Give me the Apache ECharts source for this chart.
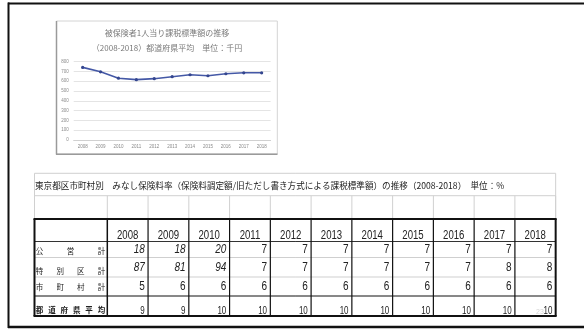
<!DOCTYPE html>
<html>
<head>
<meta charset="utf-8">
<script src="https://cdn.jsdelivr.net/npm/echarts@6/dist/echarts.min.js"></script>
<style>
html,body{margin:0;padding:0;background:#fff;}
#c{width:584px;height:330px;}
</style>
</head>
<body>
<div id="c"></div>
<script>
// ---- data ----
const years = ['2008','2009','2010','2011','2012','2013','2014','2015','2016','2017','2018'];
// per-insured taxable base, prefectural average (thousand yen)
const avgTaxBase = [740, 695, 630, 615, 625, 645, 665, 655, 675, 685, 685];
const yMin = 0, yMax = 800, yStep = 100;

const chartTitle1 = '被保険者1人当り課税標準額の推移';
const chartTitle2 = '（2008-2018）都道府県平均　単位：千円';

const tableTitle = '東京都区市町村別　みなし保険料率（保険料調定額/旧ただし書き方式による課税標準額）の推移（2008-2018）　単位：%';
const rowLabels = ['公営計', '特別区計', '市町村計', '都道府県平均'];
const publicTotal    = [18, 18, 20, 7, 7, 7, 7, 7, 7, 7, 7];
const specialWards   = [87, 81, 94, 7, 7, 7, 7, 7, 7, 8, 8];
const municipalities = [5, 6, 6, 6, 6, 6, 6, 6, 6, 6, 6];
const prefAverage    = [9, 9, 10, 10, 10, 10, 10, 10, 10, 10, 10];
const tableRows = [publicTotal, specialWards, municipalities, prefAverage];

// ---- table layout ----
const CJK = '"Noto Sans CJK JP", "Noto Sans CJK SC", sans-serif';
const NUM = '"Liberation Sans", Arial, sans-serif';
const T = {
  left: 34.5, labelRight: 107.3, colW: 40.76,
  titleTop: 173.3, blankTop: 195.7, headTop: 219, headBottom: 241.5,
  rowBottoms: [257.5, 277, 296, 316]
};
T.right = T.labelRight + T.colW * years.length;

const g = [];
function line(x1, y1, x2, y2, stroke, w) {
  g.push({ type: 'line', silent: true,
    shape: { x1: x1, y1: y1, x2: x2, y2: y2 },
    style: { stroke: stroke, lineWidth: w } });
}
// text anchored at (x, y); sx squeezes glyphs horizontally around the anchor
function text(str, x, y, font, fill, align, valign, sx) {
  g.push({ type: 'text', silent: true, x: x, y: y, scaleX: sx || 1,
    style: { text: str, x: 0, y: 0, font: font, fill: fill,
      textAlign: align, textVerticalAlign: valign, align: align, verticalAlign: valign } });
}

// outer frame
line(8, 3.5, 584, 3.5, '#111', 2);
line(8.5, 2.5, 8.5, 328, '#111', 2);
line(8, 327, 584, 327, '#111', 2.5);

// chart box with soft shadow on left / bottom
g.push({ type: 'rect', silent: true,
  shape: { x: 56.5, y: 21, width: 220.8, height: 133 },
  style: { fill: 'none', stroke: '#d4d4d4', lineWidth: 1 } });
line(56.5, 21, 56.5, 154.5, '#9a9a9a', 1.5);
line(56, 154.3, 277.5, 154.3, '#9a9a9a', 1.5);

// chart titles
text(chartTitle1, 167, 33.3, '8px ' + CJK, '#7a7a7a', 'center', 'middle');
text(chartTitle2, 167, 48, '8px ' + CJK, '#7a7a7a', 'center', 'middle');

// spreadsheet grey cell lines
const grey = '#d0d0d0';
line(T.left, T.titleTop, T.right, T.titleTop, grey, 1);
line(T.left, T.blankTop, T.right, T.blankTop, grey, 1);
line(T.left, T.titleTop, T.left, T.headTop, grey, 1);
line(T.right, T.titleTop, T.right, T.headTop, grey, 1);
for (let i = 0; i <= years.length; i++) {
  const x = T.labelRight + T.colW * i;
  line(x, T.blankTop, x, T.headTop, grey, 1);
}
text(tableTitle, 35, 185.7, '8.6px ' + CJK, '#222', 'left', 'middle');

// table borders
line(T.left, T.headBottom, T.right, T.headBottom, '#333', 1);
line(T.left, T.rowBottoms[0], T.right, T.rowBottoms[0], '#cfcfcf', 1);
line(T.left, T.rowBottoms[1], T.right, T.rowBottoms[1], '#cfcfcf', 1);
line(T.left, T.rowBottoms[2], T.right, T.rowBottoms[2], '#111', 1);
for (let i = 0; i < years.length; i++) {
  const x = T.labelRight + T.colW * i;
  line(x, T.headTop, x, T.rowBottoms[3], '#111', i === 0 ? 1.5 : 1.2);
}
line(T.left - 1, T.headTop, T.right + 1, T.headTop, '#111', 2);
line(T.left - 1, T.rowBottoms[3], T.right + 1, T.rowBottoms[3], '#111', 2);
line(T.left, T.headTop, T.left, T.rowBottoms[3], '#111', 2);
line(T.right, T.headTop, T.right, T.rowBottoms[3], '#111', 2);

// header years
years.forEach(function (yr, i) {
  text(yr, T.labelRight + T.colW * (i + 0.5), 235.8, '12px ' + NUM, '#222', 'center', 'middle', 0.8);
});

// row labels, spread across the label cell
const labelCenters = [251, 270.8, 287.6, 310.6];
rowLabels.forEach(function (lab, r) {
  const chars = lab.split('');
  const x0 = 39.5, x1 = 101.5;
  const font = (r === 3 ? 'bold 7.5px ' : '7.5px ') + CJK;
  chars.forEach(function (ch, k) {
    const x = x0 + (x1 - x0) * k / (chars.length - 1);
    text(ch, x, labelCenters[r], font, '#222', 'center', 'middle');
  });
});

// cell values
const valueCenters = [249.7, 268, 286.5, 311.2];
tableRows.forEach(function (vals, r) {
  vals.forEach(function (v, i) {
    const italic = (r < 2 && i < 3) ? 'italic ' : '';
    const size = r === 3 ? '10px ' : '12.5px ';
    text(String(v), T.labelRight + T.colW * (i + 1) - 3.3, valueCenters[r],
      italic + size + NUM, '#222', 'right', 'middle', 0.8);
  });
});
text('23', 540, 312, '7px ' + NUM, '#d6d6d6', 'center', 'middle');

// ---- chart ----
const chart = echarts.init(document.getElementById('c'), null, { renderer: 'canvas' });
chart.setOption({
  animation: false,
  backgroundColor: '#fff',
  grid: { left: 73.7, right: 313.4, top: 61.5, bottom: 190, containLabel: false },
  xAxis: {
    type: 'category',
    data: years,
    boundaryGap: true,
    axisLine: { show: true, lineStyle: { color: '#d0d0d0', width: 1 } },
    axisTick: { show: false },
    axisLabel: { fontSize: 4.5, color: '#8a8a8a', margin: 4, fontFamily: NUM, interval: 0 }
  },
  yAxis: {
    type: 'value',
    min: yMin, max: yMax, interval: yStep,
    axisLine: { show: false },
    axisTick: { show: false },
    axisLabel: { fontSize: 4.5, color: '#8a8a8a', margin: 5, fontFamily: NUM },
    splitLine: { lineStyle: { color: '#e4e4e4', width: 1 } }
  },
  series: [{
    type: 'line',
    data: avgTaxBase,
    symbol: 'circle',
    symbolSize: 3.2,
    lineStyle: { color: '#4458a6', width: 1.6 },
    itemStyle: { color: '#34468f' },
    z: 5
  }],
  graphic: { elements: g }
});
</script>
</body>
</html>
